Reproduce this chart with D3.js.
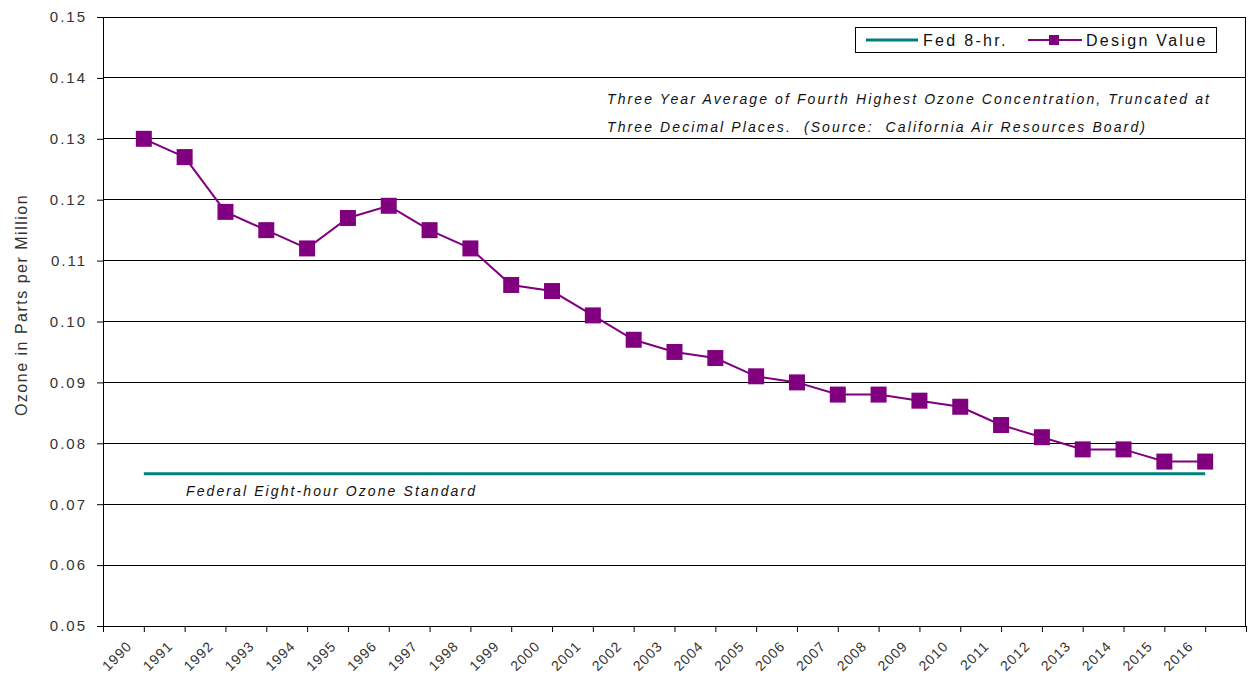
<!DOCTYPE html>
<html><head><meta charset="utf-8">
<script src="https://cdn.jsdelivr.net/npm/d3@7"></script>
<style>
html,body{margin:0;padding:0;background:#fff;}
svg{display:block;font-family:"Liberation Sans",Arial,sans-serif;}
</style></head>
<body><svg id="c" width="1248" height="677"></svg>
<script>
const years = [1990,1991,1992,1993,1994,1995,1996,1997,1998,1999,2000,2001,2002,2003,2004,2005,2006,2007,2008,2009,2010,2011,2012,2013,2014,2015,2016];
const designValue = [0.130,0.127,0.118,0.115,0.112,0.117,0.119,0.115,0.112,0.106,0.105,0.101,0.097,0.095,0.094,0.091,0.090,0.088,0.088,0.087,0.086,0.083,0.081,0.079,0.079,0.077,0.077];
const fedStandard = [0.075,0.075,0.075,0.075,0.075,0.075,0.075,0.075,0.075,0.075,0.075,0.075,0.075,0.075,0.075,0.075,0.075,0.075,0.075,0.075,0.075,0.075,0.075,0.075,0.075,0.075,0.075];
const yTicks = [0.05,0.06,0.07,0.08,0.09,0.10,0.11,0.12,0.13,0.14,0.15];
const legendLabels = ["Fed 8-hr.","Design Value"];
const noteLines = ["Three Year Average of Fourth Highest Ozone Concentration, Truncated at","Three Decimal Places.  (Source:  California Air Resources Board)"];
const stdLabel = "Federal Eight-hour Ozone Standard";
const yTitle = "Ozone in Parts per Million";

const svg = d3.select("#c");
const L=103, R=1246, T=17, B=626;
const x = d3.scaleLinear().domain([1989,2017]).range([L,R]);
const y = d3.scaleLinear().domain([0.05,0.15]).range([B,T]);
const textCol="#333";

// gridlines
svg.append("g").selectAll("line").data(yTicks).join("line")
  .attr("x1",L).attr("x2",R).attr("y1",d=>y(d)).attr("y2",d=>y(d))
  .attr("stroke","#000").attr("stroke-width",1).attr("shape-rendering","crispEdges");
// right border
svg.append("line").attr("x1",R-0.5).attr("x2",R-0.5).attr("y1",T).attr("y2",B).attr("stroke","#000");

// y axis
const ya = svg.append("g").attr("transform",`translate(${L},0)`)
  .call(d3.axisLeft(y).tickValues(yTicks).tickFormat(d3.format(".2f")).tickSize(6).tickPadding(10));
ya.select(".domain").attr("stroke","#000");
ya.selectAll(".tick line").attr("stroke","#000");
ya.selectAll("text").attr("font-size",15).attr("fill",textCol).attr("letter-spacing","2px")
  .attr("font-family","Liberation Sans, Arial, sans-serif");

// x axis
const xTickVals = d3.range(1989,2018);
const xa = svg.append("g").attr("transform",`translate(0,${B})`)
  .call(d3.axisBottom(x).tickValues(xTickVals).tickSize(6).tickFormat(""));
xa.select(".domain").attr("stroke","#000");
xa.selectAll(".tick line").attr("stroke","#000");
svg.append("g").selectAll("text").data(years).join("text")
  .attr("transform",d=>`translate(${x(d)-11},${B+21}) rotate(-45)`)
  .attr("text-anchor","end").attr("font-size",14).attr("fill",textCol).attr("letter-spacing","1px")
  .attr("font-family","Liberation Sans, Arial, sans-serif")
  .text(d=>d);

// y title
svg.append("text").attr("transform",`translate(27,305) rotate(-90)`)
  .attr("text-anchor","middle").attr("font-size",16).attr("fill",textCol)
  .attr("letter-spacing","1.5px").text(yTitle);

// fed standard line
const line = d3.line().x((d,i)=>x(years[i])).y(d=>y(d));
svg.append("path").datum(fedStandard).attr("d",line).attr("fill","none")
  .attr("stroke","#008080").attr("stroke-width",3);
svg.append("text").attr("x",186).attr("y",496).attr("font-size",14).attr("font-style","italic")
  .attr("letter-spacing","2.1px").attr("fill","#111").text(stdLabel);

// design value
svg.append("path").datum(designValue).attr("d",line).attr("fill","none")
  .attr("stroke","#800080").attr("stroke-width",2);
svg.append("g").selectAll("rect").data(designValue).join("rect")
  .attr("x",(d,i)=>x(years[i])-8).attr("y",d=>y(d)-8).attr("width",16).attr("height",16)
  .attr("fill","#800080");

// note
svg.append("g").selectAll("text").data(noteLines).join("text")
  .attr("x",607).attr("y",(d,i)=>104+i*28).attr("font-size",14).attr("font-style","italic")
  .attr("letter-spacing","2.1px").attr("fill","#111").attr("xml:space","preserve")
  .style("white-space","pre").text(d=>d);

// legend
const lg = svg.append("g");
lg.append("rect").attr("x",855.5).attr("y",27.5).attr("width",361).attr("height",25)
  .attr("fill","#fff").attr("stroke","#000");
lg.append("line").attr("x1",866).attr("x2",918).attr("y1",40).attr("y2",40).attr("stroke","#008080").attr("stroke-width",3);
lg.append("text").attr("x",923).attr("y",46).attr("font-size",16).attr("fill","#111").attr("letter-spacing","2.3px").text(legendLabels[0]);
lg.append("line").attr("x1",1028).attr("x2",1082).attr("y1",40).attr("y2",40).attr("stroke","#800080").attr("stroke-width",2);
lg.append("rect").attr("x",1049).attr("y",35).attr("width",10).attr("height",10).attr("fill","#800080");
lg.append("text").attr("x",1086).attr("y",46).attr("font-size",16).attr("fill","#111").attr("letter-spacing","2.3px").text(legendLabels[1]);
</script></body></html>
